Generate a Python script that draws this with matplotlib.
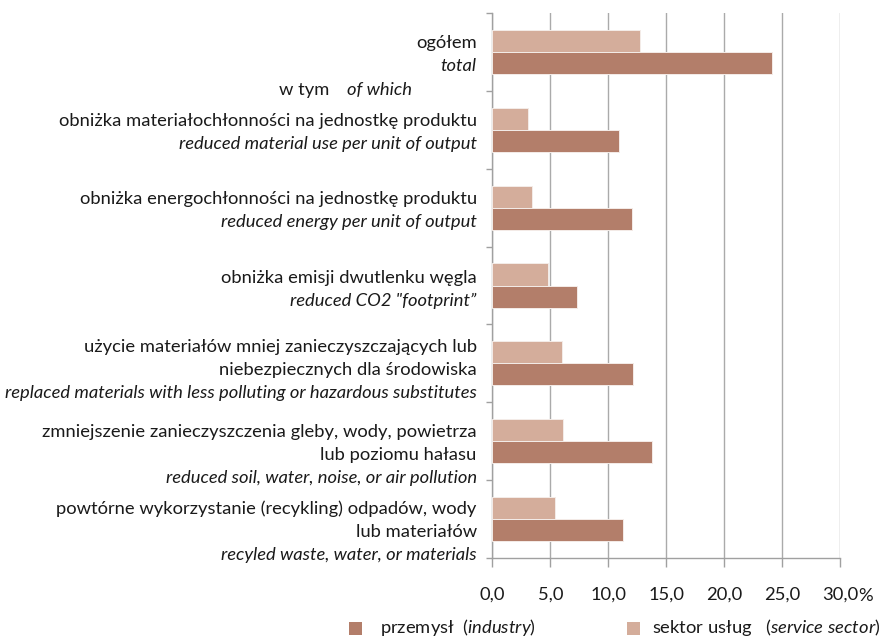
import numpy as np
import matplotlib
matplotlib.use("Agg")
import matplotlib.pyplot as plt
from matplotlib.patches import Rectangle

# ---------------- data ----------------
cat_pl = [
    "ogółem",
    "obniżka materiałochłonności na jednostkę produktu",
    "obniżka energochłonności na jednostkę produktu",
    "obniżka emisji dwutlenku węgla",
    "użycie materiałów mniej zanieczyszczających lub\nniebezpiecznych dla środowiska",
    "zmniejszenie zanieczyszczenia gleby, wody, powietrza\nlub poziomu hałasu",
    "powtórne wykorzystanie (recykling) odpadów, wody\nlub materiałów",
]
cat_en = [
    "total",
    "reduced material use per unit of output",
    "reduced energy per unit of output",
    "reduced CO2 \"footprint\u201d",
    "replaced materials with less polluting or hazardous substitutes",
    "reduced soil, water, noise, or air pollution",
    "recyled waste, water, or materials",
]
industry = [24.1, 10.9, 12.0, 7.3, 12.1, 13.8, 11.3]
service = [12.7, 3.1, 3.4, 4.8, 6.0, 6.1, 5.4]
x_ticks = [0, 5, 10, 15, 20, 25, 30]
x_labels = ["0,0", "5,0", "10,0", "15,0", "20,0", "25,0", "30,0"]
subhead_pl = "w tym"
subhead_en = "of which"
legend_industry = r"przemysł  ($\mathit{industry}$)"
legend_service = r"sektor usług   ($\mathit{service\ sector}$)"

# ---------------- style ----------------
FONT = "Lato"
plt.rcParams["font.family"] = [FONT, "DejaVu Sans"]
plt.rcParams["mathtext.fontset"] = "custom"
plt.rcParams["mathtext.rm"] = FONT
plt.rcParams["mathtext.it"] = FONT + ":italic"
FS = 13.2
TXT = "#1a1a1a"
C_IND = "#B37E6A"
C_SER = "#D4AD9B"
GRID = "#AAAAAA"

W, H = 881, 638
fig = plt.figure(figsize=(W / 100, H / 100), dpi=100)
ax_l, ax_r, ax_t, ax_b = 492.3, 840.3, 13.3, 557.7
ax = fig.add_axes([ax_l / W, 1 - ax_b / H, (ax_r - ax_l) / W, (ax_b - ax_t) / H])

n = len(industry)
y = np.arange(n)
h = 0.283
ax.barh(y - h / 2, service, height=h, color=C_SER, edgecolor="#F4ECE8", linewidth=0.7, zorder=3)
ax.barh(y + h / 2, industry, height=h, color=C_IND, edgecolor="#F4ECE8", linewidth=0.7, zorder=3)

ax.set_xlim(0, 30)
ax.set_ylim(n - 0.5, -0.5)
ax.set_xticks(x_ticks)
ax.set_xticklabels(x_labels, fontsize=FS, color=TXT)
ax.set_yticks(np.arange(-0.5, n, 1.0))
ax.set_yticklabels([])
ax.xaxis.grid(True, color=GRID, linewidth=1.0, zorder=0)
ax.set_axisbelow(True)
for s in ["top", "right"]:
    ax.spines[s].set_visible(False)
for s in ["left", "bottom"]:
    ax.spines[s].set_color("#A0A0A0")
    ax.spines[s].set_linewidth(1.0)
ax.tick_params(axis="y", length=4.3, color="#A0A0A0", width=1.0)
ax.tick_params(axis="x", length=6.5, color="#A0A0A0", width=1.0, pad=14)

# percent sign after last tick label
ax.annotate("%", xy=(30, 0), xycoords=("data", "axes fraction"), xytext=(18, -38.5),
            textcoords="offset pixels", ha="left", va="center", fontsize=FS, color=TXT)

# category labels (regular Polish lines + italic English line)
shift = [0.4, 1.1, 1.5, 2.2, 5.5, 12.0, 12.0]
LS = 23.0
BASE = 6.5
for i in range(n):
    lines = [(t, "normal") for t in cat_pl[i].split("\n")] + [(cat_en[i], "italic")]
    m = len(lines)
    for k, (t, st) in enumerate(lines):
        down = (k - (m - 1) / 2) * LS + shift[i] + BASE
        ax.annotate(t, xy=(0, i), xycoords=("axes fraction", "data"), xytext=(-15.6, -down),
                    textcoords="offset pixels", ha="right", va="baseline",
                    fontsize=FS, fontstyle=st, color=TXT, annotation_clip=False)

# "w tym  of which"
for t, st, xo in [(subhead_pl, "normal", -163.3), (subhead_en, "italic", -80.3)]:
    ax.annotate(t, xy=(0, 1), xycoords=("axes fraction", "data"), xytext=(xo, -(-41.7 + BASE)),
                textcoords="offset pixels", ha="right", va="baseline",
                fontsize=FS, fontstyle=st, color=TXT, annotation_clip=False)

# legend (manual)
for (sx, tx, col, lab) in [(349.3, 380, C_IND, legend_industry), (627.3, 652, C_SER, legend_service)]:
    fig.patches.append(Rectangle((sx / W, 1 - 635 / H), 13 / W, 13 / H, transform=fig.transFigure,
                                 facecolor=col, edgecolor="none"))
    fig.text(tx / W, 1 - 633 / H, lab, ha="left", va="baseline", fontsize=FS, color=TXT)

fig.savefig("out.png", dpi=100)
